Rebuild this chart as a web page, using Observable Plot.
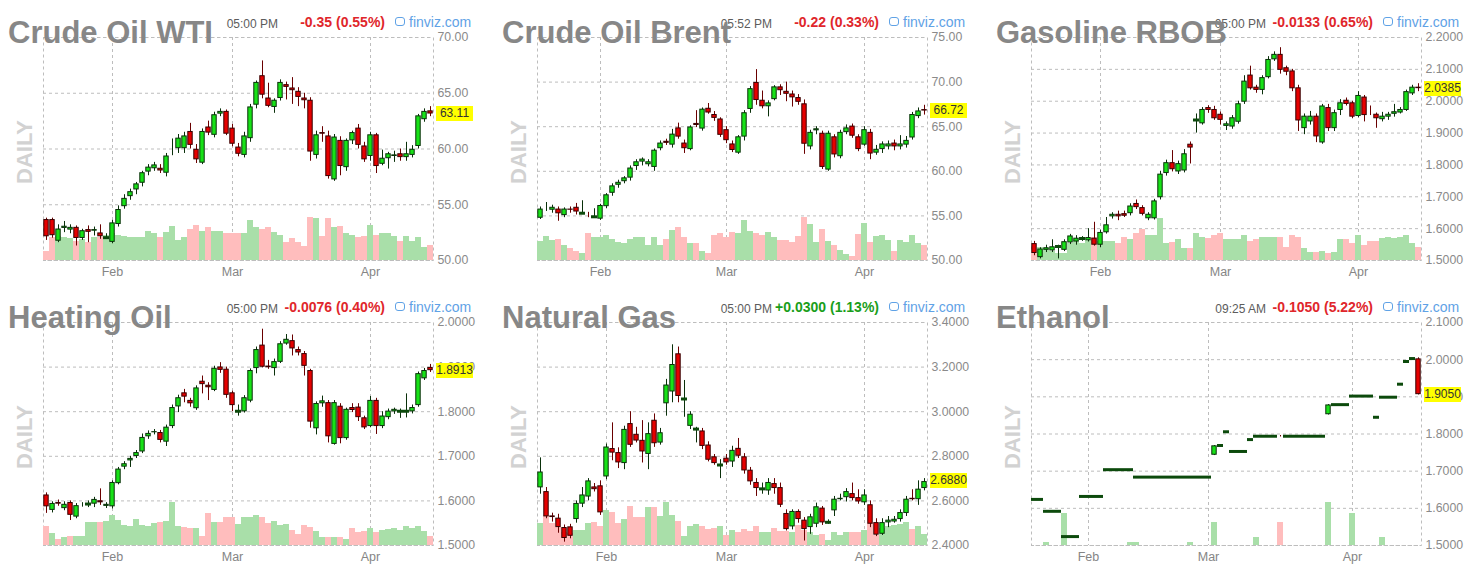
<!DOCTYPE html>
<html>
<head>
<meta charset="utf-8">
<script src="https://cdn.jsdelivr.net/npm/d3@7"></script>
<script src="https://cdn.jsdelivr.net/npm/@observablehq/plot@0.6"></script>
<style>
  body { margin: 0; background: #fff; font-family: "Liberation Sans", Arial, sans-serif; }
  #root { position: relative; width: 1482px; height: 574px; overflow: hidden; background: #fff; }
  .panel { position: absolute; width: 494px; height: 287px; }
  .panel svg { position: absolute; left: 0; top: 0; }
  .title { position: absolute; left: 8px; top: 17px; font: bold 31px/1 "Liberation Sans", Arial, sans-serif; color: #878787; white-space: nowrap; z-index: 5; }
  .time { position: absolute; right: 216px; top: 18px; font: 12px/1 "Liberation Sans", Arial, sans-serif; color: #5c5c5c; white-space: nowrap; z-index: 4; }
  .chg { position: absolute; right: 109px; top: 15px; font: bold 14px/1 "Liberation Sans", Arial, sans-serif; white-space: nowrap; z-index: 4; }
  .fv { position: absolute; left: 395px; top: 15px; font: 14px/1 "Liberation Sans", Arial, sans-serif; color: #5fa2e6; white-space: nowrap; z-index: 4; }
  .fv .ico { display: inline-block; width: 8px; height: 7px; border: 1.4px solid #5fa2e6; border-radius: 3px; margin-right: 4px; vertical-align: 1px; }
  .daily { position: absolute; left: 25px; top: 152px; transform: translate(-50%, -50%) rotate(-90deg); font: bold 22px/1 "Liberation Sans", Arial, sans-serif; color: #d2d2d2; white-space: nowrap; }
  .last { position: absolute; left: 436px; width: 37px; height: 15px; background: #ffff00; font: 12px/15px "Liberation Sans", Arial, sans-serif; color: #333; text-align: center; z-index: 6; }
</style>
</head>
<body>
<div id="root"></div>
<script>
// ---------- shared ----------
const monthLabels = ["Feb", "Mar", "Apr"];

// ---------- Crude Oil WTI ----------
const wtiMeta = { name: "Crude Oil WTI", time: "05:00 PM", change: "-0.35 (0.55%)", up: false };
const wtiTicks = [50, 55, 60, 65, 70];
const wtiMonthStarts = [11, 31, 54];
const wtiOHLC = [
  [53.7,53.8,51.8,52.1],[53.7,53.8,52.0,52.2],[51.7,53.2,51.6,52.85],[52.85,53.5,52.5,53.1],[52.7,53.2,52.4,53.0],
  [53.0,53.1,51.3,51.95],[51.95,52.8,51.8,52.7],[52.8,53.1,51.6,52.5],[52.6,53.0,52.2,52.8],[52.5,53.2,51.9,52.1],
  [52.05,52.4,51.9,52.05],[51.6,53.6,51.5,53.4],[53.2,54.9,53.0,54.6],[54.8,55.9,54.6,55.6],[55.7,56.4,55.4,56.2],
  [56.3,57.0,55.9,56.9],[56.9,58.0,56.6,57.9],[57.9,58.6,57.6,58.4],[58.2,58.8,58.0,58.6],[58.3,58.6,57.8,58.0],
  [57.8,59.6,57.5,59.4],[59.9,60.9,59.4,60.0],[60.0,61.3,59.6,61.0],[60.0,61.5,59.6,61.2],[61.6,62.3,60.0,60.3],
  [60.0,60.4,58.7,59.0],[58.7,61.8,58.6,61.6],[62.0,62.5,61.2,61.4],[61.2,63.3,61.0,63.1],[63.1,63.6,62.9,63.4],
  [63.4,63.5,61.2,61.3],[61.9,62.2,60.2,60.4],[60.2,60.5,59.3,59.5],[59.4,61.5,59.2,61.2],[60.9,64.0,60.6,63.8],
  [63.9,66.1,63.6,66.0],[66.6,67.9,64.5,64.8],[64.6,65.9,63.7,63.8],[63.7,64.5,63.2,64.4],[64.5,66.2,64.3,66.0],
  [65.8,66.0,64.4,65.5],[65.5,66.4,64.0,65.2],[65.2,65.5,63.8,64.6],[64.6,65.0,63.6,64.3],[64.4,64.6,58.9,59.7],
  [59.4,61.6,59.1,61.3],[61.5,62.0,60.6,61.3],[61.2,61.6,57.3,57.5],[57.2,61.3,57.1,61.1],[60.8,61.1,57.6,58.4],
  [58.3,60.9,58.0,60.8],[60.7,61.6,60.4,61.5],[61.9,62.2,60.0,60.3],[60.3,60.6,58.8,59.0],[59.3,61.5,58.9,61.3],
  [61.3,61.4,57.8,58.4],[58.6,59.9,58.5,59.2],[59.1,59.7,58.2,59.6],[59.3,59.8,58.8,59.5],[59.6,60.0,58.9,59.2],
  [59.2,60.6,58.9,59.6],[59.4,60.3,59.2,60.0],[60.2,63.1,60.0,63.0],[62.6,63.6,62.4,63.4],[63.45,63.8,62.9,63.11]
];
const wtiVolume = [26,68,71,68,65,58,63,53,68,68,76,80,76,71,68,68,68,88,80,68,85,101,60,68,93,106,88,98,86,88,80,80,80,80,120,98,93,98,83,75,53,66,53,43,130,125,71,125,98,103,80,76,68,71,106,76,80,80,71,58,71,58,70,40,44];

// ---------- Crude Oil Brent ----------
const brentMeta = { name: "Crude Oil Brent", time: "05:52 PM", change: "-0.22 (0.33%)", up: false };
const brentTicks = [50, 55, 60, 65, 70, 75];
const brentMonthStarts = [10, 31, 54];
const brentOHLC = [
  [54.7,56.0,54.6,55.8],[55.8,56.5,55.5,55.9],[55.6,56.2,55.3,56.0],[55.8,56.0,54.4,55.2],[55.0,55.9,54.8,55.8],
  [55.8,56.0,55.3,55.6],[56.0,56.4,55.1,55.4],[55.3,56.7,55.2,55.3],[55.0,55.4,54.8,54.9],[54.9,55.8,54.8,54.9],
  [54.6,56.3,54.5,56.2],[56.0,57.5,55.8,57.4],[57.5,58.6,57.2,58.4],[58.4,59.0,58.1,58.8],[58.8,59.4,58.6,59.3],
  [59.2,60.6,58.9,60.4],[60.5,61.3,60.1,61.1],[61.0,61.5,60.6,61.4],[60.7,61.3,60.5,61.1],[60.4,62.5,60.0,62.4],
  [62.5,63.4,62.3,63.2],[63.4,63.6,62.9,63.1],[62.9,64.7,62.6,64.2],[64.9,65.4,63.6,63.8],[63.2,63.5,62.0,62.5],
  [62.4,65.1,62.3,65.0],[65.4,66.8,64.9,65.1],[64.7,67.1,64.5,67.0],[67.1,67.6,66.4,66.5],[66.4,66.7,65.6,65.9],
  [65.9,66.0,63.8,64.0],[64.7,65.0,63.1,63.4],[63.1,63.4,62.1,62.3],[62.0,64.0,61.9,63.9],[63.8,66.8,63.4,66.6],
  [66.9,69.5,66.5,69.3],[70.0,71.4,67.4,67.9],[68.0,69.0,67.0,67.2],[67.2,67.9,66.1,67.7],[68.0,69.6,67.9,69.5],
  [69.5,69.7,68.5,69.0],[69.0,70.0,67.8,68.6],[68.7,69.0,67.2,68.2],[68.3,68.6,67.4,67.7],[67.6,68.0,61.9,63.0],
  [62.7,64.6,62.4,64.4],[64.5,65.0,64.1,64.8],[64.3,64.5,60.2,60.4],[60.1,64.5,60.0,64.3],[63.9,64.1,61.5,61.8],
  [61.6,64.6,61.4,64.4],[64.3,65.2,64.1,64.9],[65.1,65.3,63.7,63.9],[63.9,64.1,62.2,62.4],[62.9,65.0,62.8,64.7],
  [64.4,64.7,61.3,61.9],[62.0,62.9,61.8,62.5],[62.4,63.3,62.0,63.1],[62.7,63.4,62.4,63.1],[63.2,63.5,62.3,62.7],
  [62.7,64.0,62.4,63.1],[62.9,63.9,62.6,63.5],[63.7,66.6,63.5,66.4],[66.1,67.1,65.9,66.8],[66.95,67.4,66.3,66.72]
];
const brentVolume = [58,72,60,63,45,35,28,22,80,70,68,75,62,55,52,62,70,68,45,70,45,62,90,98,70,50,50,28,22,75,80,68,85,80,120,88,80,75,85,68,60,60,55,72,128,108,55,92,58,45,30,18,12,77,112,55,72,75,60,28,60,55,75,52,45];

// ---------- Gasoline RBOB ----------
const gasMeta = { name: "Gasoline RBOB", time: "05:00 PM", change: "-0.0133 (0.65%)", up: false };
const gasTicks = [1.5, 1.6, 1.7, 1.8, 1.9, 2.0, 2.1, 2.2];
const gasMonthStarts = [11, 31, 54];
const gasOHLC = [
  [1.554,1.560,1.515,1.521],[1.508,1.540,1.505,1.537],[1.531,1.548,1.525,1.541],[1.529,1.565,1.525,1.544],[1.544,1.548,1.505,1.544],
  [1.531,1.565,1.528,1.560],[1.554,1.582,1.550,1.578],[1.557,1.578,1.548,1.571],[1.569,1.575,1.560,1.569],[1.561,1.600,1.558,1.573],
  [1.571,1.620,1.545,1.547],[1.547,1.595,1.540,1.589],[1.586,1.635,1.583,1.613],[1.636,1.650,1.630,1.646],[1.646,1.655,1.625,1.636],
  [1.648,1.655,1.635,1.638],[1.646,1.678,1.640,1.672],[1.680,1.690,1.660,1.665],[1.667,1.672,1.640,1.644],[1.630,1.650,1.625,1.646],
  [1.630,1.692,1.627,1.688],[1.696,1.780,1.690,1.772],[1.772,1.815,1.765,1.808],[1.808,1.845,1.778,1.784],[1.777,1.812,1.770,1.805],
  [1.780,1.848,1.775,1.836],[1.866,1.872,1.803,1.852],[1.941,1.960,1.900,1.941],[1.928,1.980,1.925,1.975],[1.981,1.986,1.962,1.970],
  [1.975,1.984,1.940,1.944],[1.960,1.966,1.925,1.939],[1.920,1.935,1.908,1.930],[1.918,1.955,1.912,1.949],[1.933,2.000,1.928,1.993],
  [1.996,2.080,1.990,2.064],[2.083,2.110,2.035,2.038],[2.045,2.050,2.025,2.033],[2.033,2.080,2.020,2.075],[2.073,2.140,2.070,2.132],
  [2.129,2.155,2.125,2.148],[2.148,2.168,2.085,2.096],[2.106,2.110,2.080,2.090],[2.096,2.100,2.030,2.038],[2.043,2.050,1.905,1.937],
  [1.913,1.960,1.895,1.954],[1.934,1.968,1.925,1.954],[1.954,1.960,1.870,1.887],[1.868,1.990,1.865,1.986],[1.981,1.990,1.905,1.913],
  [1.913,1.972,1.905,1.965],[1.970,2.005,1.955,1.996],[2.004,2.010,1.985,1.989],[1.996,2.000,1.945,1.949],[1.951,2.030,1.948,2.019],
  [2.014,2.018,1.935,1.954],[1.964,1.985,1.955,1.960],[1.960,1.963,1.915,1.944],[1.941,1.965,1.935,1.954],[1.949,1.965,1.940,1.960],
  [1.958,1.990,1.950,1.968],[1.962,1.980,1.960,1.975],[1.970,2.035,1.968,2.031],[2.022,2.050,2.018,2.045],[2.045,2.055,2.030,2.0385]
];
const gasVolume = [20,40,35,28,22,22,50,60,50,60,70,58,58,58,50,68,62,80,92,75,75,125,50,55,62,35,35,80,70,65,75,80,62,62,62,75,58,62,70,70,70,70,40,75,70,35,25,25,28,22,25,62,62,52,75,45,58,58,65,70,65,70,75,52,40];

// ---------- Heating Oil ----------
const hoMeta = { name: "Heating Oil", time: "05:00 PM", change: "-0.0076 (0.40%)", up: false };
const hoTicks = [1.5, 1.6, 1.7, 1.8, 1.9, 2.0];
const hoMonthStarts = [11, 31, 54];
const hoOHLC = [
  [1.614,1.618,1.572,1.586],[1.578,1.598,1.573,1.595],[1.597,1.602,1.588,1.592],[1.582,1.598,1.578,1.593],[1.597,1.600,1.556,1.567],
  [1.563,1.594,1.560,1.590],[1.590,1.596,1.586,1.593],[1.593,1.600,1.585,1.593],[1.592,1.608,1.585,1.604],[1.601,1.627,1.590,1.595],
  [1.587,1.596,1.583,1.593],[1.586,1.645,1.582,1.642],[1.638,1.675,1.636,1.672],[1.675,1.688,1.670,1.684],[1.689,1.700,1.675,1.696],
  [1.699,1.713,1.695,1.709],[1.709,1.750,1.706,1.743],[1.743,1.757,1.738,1.752],[1.752,1.760,1.748,1.756],[1.754,1.758,1.730,1.735],
  [1.731,1.770,1.722,1.766],[1.766,1.815,1.762,1.810],[1.810,1.837,1.798,1.832],[1.843,1.850,1.820,1.832],[1.826,1.830,1.810,1.817],
  [1.806,1.858,1.803,1.854],[1.869,1.880,1.840,1.860],[1.860,1.865,1.825,1.853],[1.847,1.902,1.845,1.898],[1.901,1.910,1.886,1.892],
  [1.896,1.900,1.830,1.836],[1.843,1.846,1.800,1.813],[1.801,1.815,1.790,1.801],[1.799,1.836,1.797,1.832],[1.823,1.896,1.820,1.893],
  [1.896,1.945,1.885,1.940],[1.950,1.985,1.898,1.899],[1.903,1.915,1.895,1.898],[1.896,1.918,1.880,1.913],[1.910,1.957,1.908,1.953],
  [1.951,1.973,1.949,1.963],[1.960,1.972,1.925,1.940],[1.940,1.945,1.925,1.931],[1.931,1.935,1.880,1.901],[1.893,1.895,1.763,1.776],
  [1.761,1.822,1.748,1.819],[1.817,1.835,1.810,1.825],[1.821,1.825,1.730,1.743],[1.726,1.825,1.725,1.821],[1.813,1.818,1.728,1.739],
  [1.739,1.808,1.736,1.806],[1.810,1.818,1.798,1.802],[1.811,1.818,1.778,1.786],[1.787,1.790,1.760,1.763],[1.766,1.834,1.764,1.826],
  [1.826,1.830,1.749,1.766],[1.766,1.800,1.762,1.791],[1.786,1.806,1.782,1.802],[1.799,1.808,1.794,1.806],[1.801,1.806,1.785,1.801],
  [1.801,1.840,1.786,1.801],[1.799,1.815,1.795,1.810],[1.813,1.889,1.810,1.886],[1.873,1.897,1.870,1.893],[1.900,1.906,1.888,1.8913]
];
const hoVolume = [56,36,18,23,28,28,28,68,68,68,73,90,76,60,58,78,60,58,65,68,73,128,56,53,50,50,28,96,68,68,83,83,63,83,83,90,83,66,73,60,63,45,33,60,53,43,23,23,23,23,18,50,40,43,50,38,45,48,50,45,56,51,56,43,28];

// ---------- Natural Gas ----------
const ngMeta = { name: "Natural Gas", time: "05:00 PM", change: "+0.0300 (1.13%)", up: true };
const ngTicks = [2.4, 2.6, 2.8, 3.0, 3.2, 3.4];
const ngMonthStarts = [11, 31, 54];
const ngOHLC = [
  [2.657,2.793,2.630,2.731],[2.643,2.660,2.520,2.527],[2.534,2.545,2.505,2.524],[2.524,2.540,2.455,2.479],[2.482,2.492,2.415,2.430],
  [2.485,2.495,2.430,2.440],[2.515,2.600,2.500,2.590],[2.584,2.660,2.570,2.628],[2.616,2.700,2.600,2.691],[2.664,2.678,2.640,2.649],
  [2.669,2.690,2.535,2.545],[2.706,2.855,2.695,2.843],[2.836,2.950,2.780,2.813],[2.818,2.838,2.745,2.769],[2.766,2.935,2.740,2.922],
  [2.948,3.000,2.840,2.848],[2.900,2.930,2.860,2.867],[2.873,2.960,2.770,2.818],[2.807,2.950,2.740,2.903],[2.963,2.990,2.840,2.855],
  [2.858,2.925,2.850,2.907],[3.034,3.145,2.980,3.121],[3.087,3.300,3.040,3.213],[3.261,3.290,3.040,3.067],[3.057,3.140,2.975,3.057],
  [2.933,3.000,2.920,2.990],[2.922,2.930,2.860,2.922],[2.915,2.925,2.830,2.843],[2.852,2.865,2.775,2.781],[2.799,2.808,2.760,2.766],
  [2.761,2.785,2.700,2.761],[2.793,2.808,2.760,2.769],[2.773,2.845,2.750,2.828],[2.837,2.880,2.790,2.799],[2.799,2.812,2.720,2.733],
  [2.739,2.750,2.670,2.684],[2.684,2.700,2.620,2.654],[2.654,2.680,2.630,2.654],[2.643,2.700,2.625,2.684],[2.679,2.700,2.630,2.654],
  [2.661,2.680,2.570,2.579],[2.545,2.560,2.465,2.470],[2.482,2.560,2.470,2.554],[2.554,2.560,2.500,2.515],[2.515,2.525,2.420,2.470],
  [2.479,2.540,2.450,2.530],[2.494,2.590,2.480,2.575],[2.569,2.575,2.490,2.500],[2.504,2.515,2.495,2.504],[2.554,2.620,2.530,2.609],
  [2.604,2.630,2.600,2.613],[2.613,2.655,2.595,2.643],[2.634,2.680,2.600,2.609],[2.616,2.650,2.585,2.594],[2.590,2.650,2.580,2.628],
  [2.584,2.600,2.480,2.494],[2.504,2.520,2.440,2.445],[2.449,2.520,2.445,2.504],[2.500,2.530,2.480,2.515],[2.504,2.530,2.500,2.519],
  [2.515,2.560,2.505,2.549],[2.542,2.620,2.530,2.609],[2.613,2.650,2.600,2.604],[2.604,2.690,2.580,2.654],[2.654,2.700,2.645,2.688]
];
const ngVolume = [66,90,66,53,38,36,46,46,66,70,56,106,100,66,78,118,83,83,113,113,88,130,90,73,26,56,63,56,48,50,56,30,46,38,48,43,56,38,38,50,43,43,38,60,46,40,30,33,16,40,30,40,40,38,46,66,30,50,58,60,63,70,48,56,33];

// ---------- Ethanol ----------
const ethMeta = { name: "Ethanol", time: "09:25 AM", change: "-0.1050 (5.22%)", up: false };
const ethTicks = [1.5, 1.6, 1.7, 1.8, 1.9, 2.0, 2.1];
const ethMonthStarts = [9, 29, 53];
const ethOHLC = [
  [1.624,1.624,1.624,1.624],[1.624,1.624,1.624,1.624],
  [1.592,1.592,1.592,1.592],[1.592,1.592,1.592,1.592],[1.592,1.592,1.592,1.592],
  [1.524,1.524,1.524,1.524],[1.524,1.524,1.524,1.524],[1.524,1.524,1.524,1.524],
  [1.632,1.632,1.632,1.632],[1.632,1.632,1.632,1.632],[1.632,1.632,1.632,1.632],[1.632,1.632,1.632,1.632],
  [1.704,1.704,1.704,1.704],[1.704,1.704,1.704,1.704],[1.704,1.704,1.704,1.704],[1.704,1.704,1.704,1.704],[1.704,1.704,1.704,1.704],
  [1.684,1.684,1.684,1.684],[1.684,1.684,1.684,1.684],[1.684,1.684,1.684,1.684],[1.684,1.684,1.684,1.684],[1.684,1.684,1.684,1.684],
  [1.684,1.684,1.684,1.684],[1.684,1.684,1.684,1.684],[1.684,1.684,1.684,1.684],[1.684,1.684,1.684,1.684],[1.684,1.684,1.684,1.684],
  [1.684,1.684,1.684,1.684],[1.684,1.684,1.684,1.684],[1.684,1.684,1.684,1.684],
  [1.742,1.769,1.742,1.769],[1.769,1.769,1.769,1.769],[1.806,1.806,1.806,1.806],
  [1.753,1.753,1.753,1.753],[1.753,1.753,1.753,1.753],[1.753,1.753,1.753,1.753],[1.785,1.785,1.785,1.785],
  [1.794,1.794,1.794,1.794],[1.794,1.794,1.794,1.794],[1.794,1.794,1.794,1.794],[1.794,1.794,1.794,1.794],
  [1.796,1.796,1.792,1.792],
  [1.794,1.794,1.794,1.794],[1.794,1.794,1.794,1.794],[1.794,1.794,1.794,1.794],[1.794,1.794,1.794,1.794],
  [1.794,1.794,1.794,1.794],[1.794,1.794,1.794,1.794],[1.794,1.794,1.794,1.794],
  [1.851,1.879,1.851,1.879],[1.879,1.879,1.879,1.879],[1.879,1.879,1.879,1.879],[1.879,1.879,1.879,1.879],
  [1.902,1.902,1.902,1.902],[1.902,1.902,1.902,1.902],[1.902,1.902,1.902,1.902],[1.902,1.902,1.902,1.902],
  [1.845,1.845,1.845,1.845],[1.899,1.899,1.899,1.899],[1.899,1.899,1.899,1.899],[1.899,1.899,1.899,1.899],
  [1.934,1.934,1.934,1.934],[1.995,1.995,1.995,1.995],[2.003,2.003,2.003,2.003],[2.003,2.005,1.905,1.905]
];
const ethVolume = [0,0,10,0,0,97,0,0,0,0,0,0,0,0,0,0,10,10,0,0,0,0,0,0,0,0,10,0,0,0,70,0,0,0,0,0,0,25,0,0,0,70,0,0,0,0,0,0,0,128,0,0,0,97,0,0,0,0,25,0,0,0,0,0,0];

// ---------- styling constants ----------
const W = 494, H = 287, mL = 43, mR = 61, mT = 37, mB = 27;
const GRID = "#bdbdbd";
const UP = "#17e217", DOWN = "#e60000", FLAT = "#0c4a0c";
const UP_EDGE = "#0a300a", DOWN_EDGE = "#360000";
const VOL_UP = "#a9dfa9", VOL_DOWN = "#ffbdbd";
const FONT = '"Liberation Sans", Arial, sans-serif';

const panels = [
  { meta: wtiMeta, ohlc: wtiOHLC, volume: wtiVolume, ticks: wtiTicks, months: wtiMonthStarts, dec: 2, col: 0, row: 0 },
  { meta: brentMeta, ohlc: brentOHLC, volume: brentVolume, ticks: brentTicks, months: brentMonthStarts, dec: 2, col: 1, row: 0 },
  { meta: gasMeta, ohlc: gasOHLC, volume: gasVolume, ticks: gasTicks, months: gasMonthStarts, dec: 4, col: 2, row: 0 },
  { meta: hoMeta, ohlc: hoOHLC, volume: hoVolume, ticks: hoTicks, months: hoMonthStarts, dec: 4, col: 0, row: 1 },
  { meta: ngMeta, ohlc: ngOHLC, volume: ngVolume, ticks: ngTicks, months: ngMonthStarts, dec: 4, col: 1, row: 1 },
  { meta: ethMeta, ohlc: ethOHLC, volume: ethVolume, ticks: ethTicks, months: ethMonthStarts, dec: 4, col: 2, row: 1 }
];

const root = document.getElementById("root");

function common(x, y) {
  return {
    width: W, height: H, marginLeft: mL, marginRight: mR, marginTop: mT, marginBottom: mB,
    x, y,
    style: { background: "transparent", fontFamily: FONT, fontSize: "12px", color: "#8a8a8a", overflow: "visible" }
  };
}

for (const p of panels) {
  const data = p.ohlc.map(([o, h, l, c], i) => ({ i, o, h, l, c, v: p.volume[i], dir: c > o ? 1 : c < o ? -1 : 0 }));
  const xDomain = d3.range(data.length);
  const yDomain = [p.ticks[0], p.ticks[p.ticks.length - 1]];

  const div = document.createElement("div");
  div.className = "panel";
  div.style.left = (p.col * 494) + "px";
  div.style.top = (p.row === 0 ? 0 : 285) + "px";
  root.appendChild(div);

  // layer 1: grid, frame and axes
  const base = Plot.plot({
    ...common({ type: "band", domain: xDomain, padding: 0 }, { domain: yDomain }),
    marks: [
      Plot.gridY({ ticks: p.ticks, stroke: GRID, strokeOpacity: 1, strokeDasharray: "3,3" }),
      Plot.gridX({ ticks: p.months, stroke: GRID, strokeOpacity: 1, strokeDasharray: "3,3" }),
      Plot.frame({ stroke: GRID, strokeDasharray: "3,3" }),
      Plot.axisX({ ticks: p.months, tickFormat: d => monthLabels[p.months.indexOf(d)], tickSize: 0, tickPadding: 7, label: null, fill: "#858585", fontSize: 12.5 }),
      Plot.axisY({ anchor: "right", ticks: p.ticks, tickFormat: d => d.toFixed(p.dec), tickSize: 0, tickPadding: 4, label: null, fill: "#8a8a8a", fontSize: 12.3 })
    ]
  });
  div.appendChild(base);

  // layer 2: volume
  const vol = Plot.plot({
    ...common({ type: "band", domain: xDomain, padding: 0, axis: null }, { domain: [0, 670], axis: null }),
    marks: [
      Plot.barY(data, { x: "i", y: "v", fill: d => d.dir < 0 ? VOL_DOWN : VOL_UP, shapeRendering: "crispEdges" })
    ]
  });
  div.appendChild(vol);

  // layer 3: candles
  const candles = Plot.plot({
    ...common({ type: "band", domain: xDomain, padding: 0, axis: null }, { domain: yDomain, axis: null }),
    marks: [
      Plot.ruleX(data.filter(d => d.h > d.l), { x: "i", y1: "l", y2: "h", stroke: d => d.dir < 0 ? "#6a0000" : UP_EDGE, strokeWidth: 1 }),
      Plot.barY(data.filter(d => d.dir !== 0), { x: "i", y1: "o", y2: "c", fill: d => d.dir > 0 ? UP : DOWN, stroke: d => d.dir > 0 ? UP_EDGE : DOWN_EDGE, strokeWidth: 1, inset: 0.8 }),
      Plot.tickY(data.filter(d => d.dir === 0), { x: "i", y: "c", stroke: FLAT, strokeWidth: 3 })
    ]
  });
  div.appendChild(candles);

  // header texts
  const daily = document.createElement("div");
  daily.className = "daily"; daily.textContent = "DAILY";
  div.appendChild(daily);

  const time = document.createElement("div");
  time.className = "time"; time.textContent = p.meta.time;
  div.appendChild(time);

  const chg = document.createElement("div");
  chg.className = "chg"; chg.textContent = p.meta.change;
  chg.style.color = p.meta.up ? "#1a9e1a" : "#e0262b";
  div.appendChild(chg);

  const fv = document.createElement("div");
  fv.className = "fv";
  fv.innerHTML = '<span class="ico"></span>finviz.com';
  div.appendChild(fv);

  const title = document.createElement("div");
  title.className = "title"; title.textContent = p.meta.name;
  div.appendChild(title);

  // last price label, placed through the candle plot's y scale
  const last = data[data.length - 1];
  const py = candles.scale("y").apply(last.c);
  const lab = document.createElement("div");
  lab.className = "last";
  lab.textContent = last.c.toFixed(p.dec);
  lab.style.top = (py - 7.5) + "px";
  div.appendChild(lab);
}
</script>
</body>
</html>
